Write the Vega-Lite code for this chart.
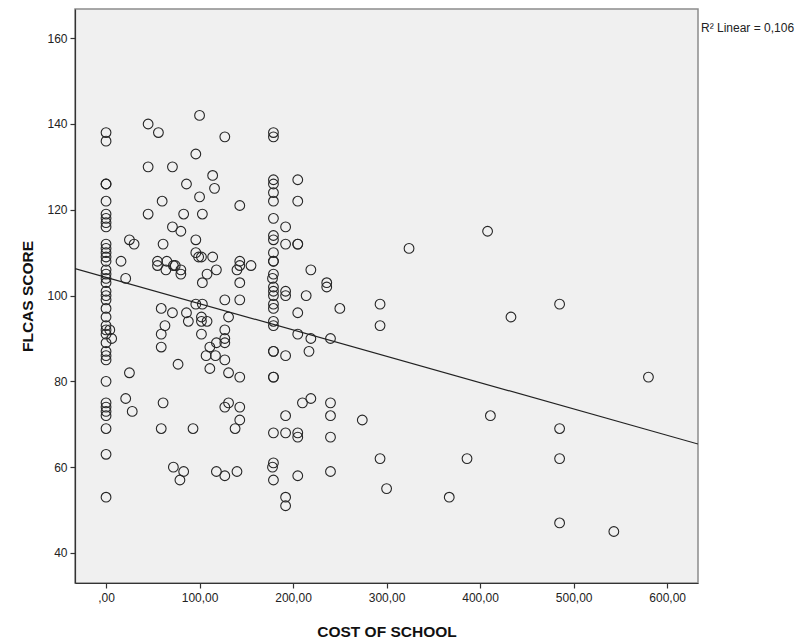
{
  "$schema": "https://vega.github.io/schema/vega-lite/v6.json",
  "autosize": "none",
  "width": 623,
  "height": 574,
  "padding": {"left": 75, "top": 9, "right": 113, "bottom": 60},
  "background": "white",
  "config": {
    "view": {"fill": "#F0F0F0", "stroke": "#8C8C8C", "strokeWidth": 1.5},
    "font": "Liberation Sans",
    "axis": {"labelFont": "Liberation Sans", "titleFont": "Liberation Sans", "labelColor": "#222", "titleColor": "#111", "domainColor": "#333", "tickColor": "#333", "grid": false, "labelFontSize": 12, "titleFontSize": 15.5, "titleFontWeight": "bold", "tickSize": 5, "domainWidth": 1.2, "tickWidth": 1.2}
  },
  "datasets": {
    "fit": [{"cost": -33.2, "flcas": 106.3}, {"cost": 633, "flcas": 65.4}],
    "note": [{"label": "R² Linear = 0,106"}]
  },
  "data": {"values": [
    {"cost":0,"flcas":138},{"cost":0,"flcas":136},{"cost":0,"flcas":126},{"cost":0,"flcas":126},{"cost":0,"flcas":122},{"cost":0,"flcas":119},{"cost":0,"flcas":118},{"cost":0,"flcas":117},{"cost":0,"flcas":116},{"cost":0,"flcas":112},{"cost":0,"flcas":111},{"cost":0,"flcas":110},{"cost":0,"flcas":109},{"cost":0,"flcas":108},{"cost":0,"flcas":106},{"cost":0,"flcas":105},{"cost":0,"flcas":104},{"cost":0,"flcas":103},{"cost":0,"flcas":101},{"cost":0,"flcas":100},{"cost":0,"flcas":99},{"cost":0,"flcas":97},{"cost":0,"flcas":95},{"cost":0,"flcas":93},{"cost":0,"flcas":92},{"cost":0,"flcas":91},{"cost":0,"flcas":89},{"cost":0,"flcas":87},{"cost":0,"flcas":86},{"cost":0,"flcas":85},{"cost":0,"flcas":80},{"cost":0,"flcas":75},{"cost":0,"flcas":74},{"cost":0,"flcas":73},{"cost":0,"flcas":72},{"cost":0,"flcas":69},{"cost":0,"flcas":63},{"cost":0,"flcas":53},
    {"cost":4,"flcas":92},{"cost":6,"flcas":90},
    {"cost":45,"flcas":140},{"cost":56,"flcas":138},{"cost":100,"flcas":142},{"cost":127,"flcas":137},{"cost":96,"flcas":133},{"cost":45,"flcas":130},{"cost":71,"flcas":130},{"cost":114,"flcas":128},{"cost":86,"flcas":126},{"cost":116,"flcas":125},{"cost":60,"flcas":122},{"cost":100,"flcas":123},{"cost":143,"flcas":121},{"cost":45,"flcas":119},{"cost":83,"flcas":119},{"cost":103,"flcas":119},{"cost":71,"flcas":116},{"cost":80,"flcas":115},{"cost":96,"flcas":113},{"cost":25,"flcas":113},{"cost":30,"flcas":112},{"cost":61,"flcas":112},{"cost":96,"flcas":110},{"cost":99,"flcas":109},{"cost":102,"flcas":109},{"cost":114,"flcas":109},{"cost":16,"flcas":108},{"cost":55,"flcas":108},{"cost":55,"flcas":107},{"cost":65,"flcas":108},{"cost":72,"flcas":107},{"cost":74,"flcas":107},{"cost":64,"flcas":106},{"cost":80,"flcas":106},{"cost":80,"flcas":105},{"cost":118,"flcas":106},{"cost":108,"flcas":105},{"cost":103,"flcas":103},{"cost":143,"flcas":108},{"cost":143,"flcas":107},{"cost":140,"flcas":106},{"cost":155,"flcas":107},{"cost":143,"flcas":103},{"cost":143,"flcas":99},{"cost":127,"flcas":99},{"cost":96,"flcas":98},{"cost":103,"flcas":98},{"cost":59,"flcas":97},{"cost":71,"flcas":96},{"cost":86,"flcas":96},{"cost":131,"flcas":95},{"cost":88,"flcas":94},{"cost":102,"flcas":95},{"cost":102,"flcas":94},{"cost":108,"flcas":94},{"cost":63,"flcas":93},{"cost":127,"flcas":92},{"cost":59,"flcas":91},{"cost":102,"flcas":91},{"cost":127,"flcas":90},{"cost":127,"flcas":89},{"cost":118,"flcas":89},{"cost":111,"flcas":88},{"cost":59,"flcas":88},{"cost":107,"flcas":86},{"cost":117,"flcas":86},{"cost":127,"flcas":85},{"cost":77,"flcas":84},{"cost":111,"flcas":83},{"cost":131,"flcas":82},{"cost":143,"flcas":81},{"cost":25,"flcas":82},{"cost":21,"flcas":104},
    {"cost":21,"flcas":76},{"cost":28,"flcas":73},{"cost":61,"flcas":75},{"cost":59,"flcas":69},{"cost":93,"flcas":69},{"cost":127,"flcas":74},{"cost":131,"flcas":75},{"cost":143,"flcas":74},{"cost":143,"flcas":71},{"cost":138,"flcas":69},{"cost":72,"flcas":60},{"cost":83,"flcas":59},{"cost":79,"flcas":57},{"cost":118,"flcas":59},{"cost":127,"flcas":58},{"cost":140,"flcas":59},
    {"cost":179,"flcas":138},{"cost":179,"flcas":137},{"cost":179,"flcas":127},{"cost":179,"flcas":126},{"cost":179,"flcas":124},{"cost":179,"flcas":122},{"cost":179,"flcas":118},{"cost":179,"flcas":114},{"cost":179,"flcas":113},{"cost":179,"flcas":110},{"cost":179,"flcas":108},{"cost":179,"flcas":108},{"cost":179,"flcas":105},{"cost":178,"flcas":104},{"cost":179,"flcas":102},{"cost":179,"flcas":101},{"cost":179,"flcas":100},{"cost":179,"flcas":98},{"cost":179,"flcas":97},{"cost":179,"flcas":94},{"cost":179,"flcas":93},{"cost":179,"flcas":87},{"cost":179,"flcas":87},{"cost":179,"flcas":81},{"cost":179,"flcas":81},{"cost":179,"flcas":68},{"cost":179,"flcas":61},{"cost":178,"flcas":60},{"cost":179,"flcas":57},
    {"cost":192,"flcas":116},{"cost":192,"flcas":112},{"cost":192,"flcas":101},{"cost":192,"flcas":100},{"cost":192,"flcas":86},{"cost":192,"flcas":72},{"cost":192,"flcas":68},{"cost":192,"flcas":53},{"cost":192,"flcas":51},
    {"cost":205,"flcas":127},{"cost":205,"flcas":122},{"cost":205,"flcas":112},{"cost":205,"flcas":112},{"cost":205,"flcas":96},{"cost":205,"flcas":91},{"cost":205,"flcas":68},{"cost":205,"flcas":67},{"cost":205,"flcas":58},
    {"cost":219,"flcas":106},{"cost":219,"flcas":90},{"cost":217,"flcas":87},{"cost":219,"flcas":76},{"cost":214,"flcas":100},{"cost":210,"flcas":75},{"cost":236,"flcas":103},{"cost":236,"flcas":102},{"cost":240,"flcas":90},{"cost":240,"flcas":75},{"cost":240,"flcas":72},{"cost":240,"flcas":67},{"cost":240,"flcas":59},{"cost":250,"flcas":97},{"cost":274,"flcas":71},{"cost":293,"flcas":98},{"cost":293,"flcas":93},{"cost":293,"flcas":62},{"cost":300,"flcas":55},{"cost":324,"flcas":111},{"cost":367,"flcas":53},{"cost":386,"flcas":62},{"cost":408,"flcas":115},{"cost":411,"flcas":72},{"cost":433,"flcas":95},{"cost":485,"flcas":98},{"cost":485,"flcas":69},{"cost":485,"flcas":62},{"cost":485,"flcas":47},{"cost":543,"flcas":45},{"cost":580,"flcas":81}
  ]},
  "layer": [
    {
      "mark": {"type": "point", "shape": "circle", "filled": false, "stroke": "#262626", "strokeWidth": 1.1, "size": 95, "opacity": 1},
      "encoding": {
        "x": {"field": "cost", "type": "quantitative", "scale": {"domain": [-33.2, 633], "nice": false, "zero": false},
          "axis": {"title": "COST OF SCHOOL", "values": [0,100,200,300,400,500,600], "labelExpr": "datum.value == 0 ? ',00' : datum.value + ',00'", "titlePadding": 21, "labelPadding": 4}},
        "y": {"field": "flcas", "type": "quantitative", "scale": {"domain": [33, 166.8], "nice": false, "zero": false},
          "axis": {"title": "FLCAS SCORE", "values": [40,60,80,100,120,140,160], "titlePadding": 11, "labelPadding": 3}}
      }
    },
    {
      "data": {"name": "fit"},
      "mark": {"type": "line", "color": "#222", "strokeWidth": 1.2, "clip": true},
      "encoding": {
        "x": {"field": "cost", "type": "quantitative"},
        "y": {"field": "flcas", "type": "quantitative"}
      }
    },
    {
      "data": {"name": "note"},
      "mark": {"type": "text", "align": "left", "baseline": "middle", "dx": 3, "fontSize": 12, "font": "Liberation Sans", "color": "#222", "clip": false},
      "encoding": {
        "x": {"datum": 633, "type": "quantitative"},
        "y": {"datum": 162.3, "type": "quantitative"},
        "text": {"field": "label"}
      }
    }
  ]
}
